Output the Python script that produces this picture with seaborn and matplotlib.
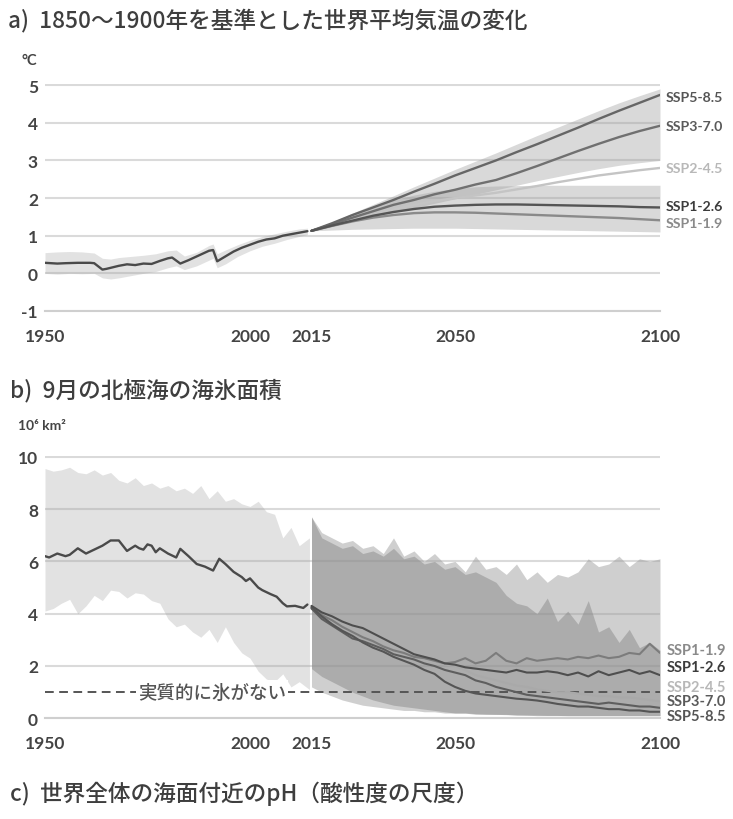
import numpy as np
import pandas as pd
import matplotlib
matplotlib.use("Agg")
import matplotlib.pyplot as plt
import seaborn as sns

# ---------------------------------------------------------------------------
# a) Global surface temperature change relative to 1850-1900 (°C)
# ---------------------------------------------------------------------------
hist_years_a = [1950, 1953, 1955, 1958, 1961, 1962, 1964, 1965, 1968, 1970, 1972,
                1974, 1976, 1978, 1980, 1981, 1983, 1985, 1988, 1990, 1991, 1992,
                1994, 1996, 1998, 2000, 2002, 2004, 2006, 2008, 2010, 2012, 2014]
hist_temp = [0.28, 0.26, 0.27, 0.28, 0.28, 0.27, 0.10, 0.12, 0.20, 0.24, 0.22,
             0.26, 0.25, 0.33, 0.40, 0.42, 0.26, 0.35, 0.50, 0.60, 0.62, 0.32,
             0.45, 0.58, 0.68, 0.76, 0.84, 0.90, 0.93, 1.00, 1.04, 1.08, 1.12]

hist_band_years_a = [1950, 1953, 1956, 1959, 1962, 1964, 1966, 1968, 1971, 1974, 1977,
                     1980, 1982, 1984, 1987, 1990, 1991, 1992, 1994, 1997, 2000, 2003,
                     2006, 2009, 2012, 2014]
hist_temp_lo = [0.00, -0.02, 0.00, -0.01, 0.00, -0.12, -0.15, -0.12, -0.06, 0.00, 0.05,
                0.15, 0.20, 0.10, 0.20, 0.35, 0.40, 0.15, 0.25, 0.45, 0.60, 0.72,
                0.80, 0.90, 0.98, 1.03]
hist_temp_hi = [0.55, 0.57, 0.58, 0.57, 0.54, 0.40, 0.38, 0.42, 0.45, 0.48, 0.52,
                0.60, 0.62, 0.46, 0.56, 0.74, 0.78, 0.52, 0.62, 0.76, 0.88, 0.98,
                1.05, 1.12, 1.18, 1.20]

proj_years_a = [2015, 2020, 2025, 2030, 2035, 2040, 2045, 2050, 2055, 2060, 2065,
                2070, 2075, 2080, 2085, 2090, 2095, 2100]
temp_ssp119 = [1.13, 1.26, 1.38, 1.48, 1.55, 1.60, 1.62, 1.62, 1.61, 1.59, 1.57,
               1.55, 1.53, 1.51, 1.49, 1.47, 1.44, 1.41]
temp_ssp126 = [1.13, 1.27, 1.40, 1.53, 1.63, 1.71, 1.77, 1.80, 1.82, 1.83, 1.83,
               1.82, 1.81, 1.80, 1.79, 1.78, 1.76, 1.75]
temp_ssp245 = [1.13, 1.28, 1.42, 1.56, 1.70, 1.82, 1.92, 2.00, 2.07, 2.14, 2.23,
               2.32, 2.42, 2.51, 2.60, 2.67, 2.74, 2.80]
temp_ssp370 = [1.13, 1.30, 1.48, 1.65, 1.82, 1.95, 2.10, 2.22, 2.36, 2.48, 2.66,
               2.85, 3.05, 3.25, 3.44, 3.62, 3.78, 3.92]
temp_ssp585 = [1.13, 1.33, 1.55, 1.75, 1.95, 2.17, 2.38, 2.60, 2.80, 3.00, 3.22,
               3.43, 3.65, 3.87, 4.10, 4.32, 4.53, 4.74]

# very likely ranges (SSP1-2.6 and SSP3-7.0)
temp_band126_lo = [1.13, 1.15, 1.17, 1.18, 1.19, 1.20, 1.20, 1.20, 1.19, 1.18, 1.17,
                   1.16, 1.15, 1.14, 1.13, 1.12, 1.11, 1.10]
temp_band126_hi = [1.13, 1.35, 1.58, 1.78, 1.95, 2.08, 2.18, 2.25, 2.30, 2.32, 2.33,
                   2.34, 2.34, 2.34, 2.34, 2.34, 2.34, 2.34]
temp_band370_lo = [1.13, 1.25, 1.38, 1.50, 1.62, 1.74, 1.86, 1.98, 2.10, 2.22, 2.34,
                   2.46, 2.57, 2.68, 2.78, 2.87, 2.94, 3.00]
temp_band370_hi = [1.13, 1.36, 1.60, 1.83, 2.06, 2.30, 2.53, 2.76, 2.98, 3.20, 3.43,
                   3.66, 3.88, 4.10, 4.32, 4.53, 4.72, 4.90]

# ---------------------------------------------------------------------------
# b) September Arctic sea ice area (10^6 km²)
# ---------------------------------------------------------------------------
hist_years_b = [1950, 1951, 1953, 1955, 1956, 1958, 1960, 1962, 1964, 1966, 1968,
                1970, 1972, 1973, 1974, 1975, 1976, 1977, 1978, 1980, 1982, 1983,
                1985, 1987, 1989, 1991, 1992.5, 1994, 1996, 1998, 1999, 2000, 2002,
                2003, 2005, 2006.5, 2008, 2009, 2011, 2013, 2014]
hist_ice = [6.20, 6.15, 6.30, 6.20, 6.25, 6.50, 6.30, 6.45, 6.60, 6.80, 6.80,
            6.40, 6.60, 6.50, 6.45, 6.65, 6.60, 6.35, 6.50, 6.30, 6.15, 6.48,
            6.20, 5.90, 5.80, 5.65, 6.10, 5.90, 5.60, 5.40, 5.25, 5.35, 5.00,
            4.90, 4.75, 4.65, 4.40, 4.28, 4.30, 4.22, 4.35]

hist_band_years_b = [1950, 1952, 1954, 1956, 1958, 1960, 1962, 1964, 1966, 1968, 1970,
                     1972, 1974, 1976, 1978, 1980, 1982, 1984, 1986, 1988, 1990, 1992,
                     1994, 1996, 1998, 2000, 2002, 2004, 2006, 2008, 2010, 2012, 2014.5]
hist_ice_lo = [4.10, 4.20, 4.40, 4.55, 4.00, 4.30, 4.70, 4.50, 4.90, 4.85, 4.60,
               4.80, 4.75, 4.50, 4.40, 3.80, 3.50, 3.60, 3.30, 3.10, 3.40, 2.90,
               3.50, 2.90, 2.50, 2.30, 1.80, 1.50, 1.40, 1.70, 1.20, 1.40, 1.10]
hist_ice_hi = [9.55, 9.45, 9.50, 9.60, 9.40, 9.35, 9.50, 9.30, 9.40, 9.10, 9.00,
               9.20, 8.90, 9.00, 8.80, 8.90, 8.70, 8.80, 8.60, 8.90, 8.40, 8.70,
               8.30, 8.40, 8.20, 8.10, 8.30, 7.90, 7.80, 6.90, 7.30, 6.60, 6.90]

proj_years_b = [2015, 2017.5, 2020, 2022.5, 2025, 2027.5, 2030, 2032.5, 2035, 2037.5,
                2040, 2042.5, 2045, 2047.5, 2050, 2052.5, 2055, 2057.5, 2060, 2062.5,
                2065, 2067.5, 2070, 2072.5, 2075, 2077.5, 2080, 2082.5, 2085, 2087.5,
                2090, 2092.5, 2095, 2097.5, 2100]
ice_ssp119 = [4.25, 3.95, 3.75, 3.50, 3.30, 3.10, 2.95, 2.75, 2.60, 2.50,
              2.35, 2.30, 2.20, 2.10, 2.15, 2.30, 2.10, 2.20, 2.50, 2.20,
              2.10, 2.30, 2.20, 2.25, 2.30, 2.25, 2.35, 2.30, 2.40, 2.30,
              2.35, 2.50, 2.45, 2.85, 2.50]
ice_ssp126 = [4.30, 4.05, 3.90, 3.70, 3.55, 3.45, 3.25, 3.05, 2.85, 2.65,
              2.45, 2.35, 2.25, 2.10, 2.05, 1.95, 1.90, 1.85, 1.80, 1.75,
              1.85, 1.75, 1.75, 1.80, 1.75, 1.65, 1.75, 1.60, 1.80, 1.65,
              1.75, 1.85, 1.70, 1.80, 1.65]
ice_ssp245 = [4.20, 3.85, 3.60, 3.35, 3.20, 3.00, 2.90, 2.75, 2.60, 2.50,
              2.35, 2.30, 2.20, 2.05, 2.00, 1.85, 1.65, 1.55, 1.45, 1.35,
              1.25, 1.20, 1.10, 1.05, 1.00, 1.00, 0.95, 0.90, 0.85, 0.85,
              0.80, 0.80, 0.75, 0.70, 0.65]
ice_ssp370 = [4.20, 3.80, 3.55, 3.30, 3.05, 2.95, 2.80, 2.65, 2.45, 2.35,
              2.25, 2.10, 2.00, 1.85, 1.75, 1.65, 1.45, 1.35, 1.20, 1.10,
              1.00, 0.90, 0.85, 0.80, 0.75, 0.70, 0.65, 0.60, 0.55, 0.60,
              0.55, 0.50, 0.45, 0.45, 0.40]
ice_ssp585 = [4.25, 3.90, 3.60, 3.35, 3.15, 2.90, 2.70, 2.55, 2.35, 2.20,
              2.05, 1.85, 1.70, 1.40, 1.20, 1.05, 0.95, 0.90, 0.85, 0.80,
              0.75, 0.72, 0.68, 0.62, 0.55, 0.50, 0.45, 0.45, 0.40, 0.35,
              0.35, 0.30, 0.30, 0.25, 0.25]

ice_band126_lo = [1.20, 1.00, 0.85, 0.70, 0.60, 0.50, 0.45, 0.40, 0.35, 0.30,
                  0.30, 0.25, 0.25, 0.20, 0.20, 0.20, 0.15, 0.15, 0.15, 0.15,
                  0.12, 0.12, 0.10, 0.10, 0.10, 0.10, 0.10, 0.10, 0.10, 0.10,
                  0.10, 0.10, 0.10, 0.10, 0.10]
ice_band126_hi = [7.70, 7.10, 6.90, 6.70, 6.80, 6.50, 6.60, 6.30, 6.90, 6.20,
                  6.40, 6.00, 6.30, 5.90, 6.00, 5.60, 6.20, 5.70, 5.80, 5.50,
                  5.90, 5.30, 5.60, 5.20, 5.50, 5.40, 5.60, 6.10, 5.80, 5.90,
                  6.20, 5.80, 6.10, 6.00, 6.10]
ice_band370_lo = [1.90, 1.60, 1.40, 1.20, 1.00, 0.85, 0.70, 0.60, 0.50, 0.45,
                  0.40, 0.35, 0.30, 0.25, 0.20, 0.20, 0.18, 0.16, 0.15, 0.14,
                  0.13, 0.12, 0.12, 0.11, 0.11, 0.10, 0.10, 0.10, 0.10, 0.10,
                  0.10, 0.10, 0.10, 0.10, 0.10]
ice_band370_hi = [7.70, 6.90, 6.70, 6.50, 6.60, 6.30, 6.40, 6.20, 6.50, 6.10,
                  6.20, 5.90, 6.00, 5.70, 5.80, 5.50, 5.60, 5.40, 5.20, 4.70,
                  4.40, 4.30, 4.00, 4.60, 3.70, 4.10, 3.60, 4.50, 3.30, 3.50,
                  2.90, 3.40, 2.70, 2.90, 2.60]

ice_free_level = 1.0
scenarios = ["SSP1-1.9", "SSP1-2.6", "SSP2-4.5", "SSP3-7.0", "SSP5-8.5"]

# ---------------------------------------------------------------------------
# styling
# ---------------------------------------------------------------------------
sns.set_theme(style="white")
plt.rcParams["font.family"] = ["Lato", "Noto Sans CJK JP", "DejaVu Sans"]

CJK = ["Noto Sans CJK JP", "DejaVu Sans"]
TXT = "#444444"
GRID = "#dadada"
hist_color = "#4a4a4a"
pal_a = {"SSP1-1.9": "#8a8a8a", "SSP1-2.6": "#555555", "SSP2-4.5": "#c4c4c4",
         "SSP3-7.0": "#707070", "SSP5-8.5": "#666666"}
pal_b = {"SSP1-1.9": "#7c7c7c", "SSP1-2.6": "#4e4e4e", "SSP2-4.5": "#a9a9a9",
         "SSP3-7.0": "#5e5e5e", "SSP5-8.5": "#555555"}
label_colors = {"SSP1-1.9": "#8a8a8a", "SSP1-2.6": "#3c3c3c", "SSP2-4.5": "#b8b8b8",
                "SSP3-7.0": "#5a5a5a", "SSP5-8.5": "#555555"}

W, H = 733, 820
fig = plt.figure(figsize=(W / 100, H / 100), dpi=100)
fig.patch.set_facecolor("white")


def px_axes(left, top, right, bottom):
    return fig.add_axes([left / W, 1 - bottom / H, (right - left) / W, (bottom - top) / H])


def style_axes(ax, yticks, ylim):
    ax.set_xlim(1950, 2100)
    ax.set_ylim(*ylim)
    ax.set_yticks(yticks)
    ax.set_yticklabels([f"{t:g}" for t in yticks])
    ax.set_xticks([1950, 2000, 2015, 2050, 2100])
    ax.set_xticks(list(range(1960, 2100, 10)), minor=True)
    ax.set_xlabel("")
    ax.set_ylabel("")
    for s in ("top", "right", "left"):
        ax.spines[s].set_visible(False)
    ax.spines["bottom"].set_color("#cfcfcf")
    ax.spines["bottom"].set_linewidth(1.5)
    ax.yaxis.grid(True, color=GRID, lw=1.5)
    ax.xaxis.grid(False)
    ax.set_axisbelow(True)
    ax.tick_params(axis="y", length=0, pad=5, labelsize=12.5, labelcolor=TXT)
    ax.tick_params(axis="x", which="both", direction="in", length=5, width=1.2,
                   color="#c6c6c6", pad=12, labelsize=12.5, labelcolor=TXT)
    for lab in ax.get_xticklabels() + ax.get_yticklabels():
        lab.set_fontweight("bold")
        lab.set_family("Lato")
    ax.set_facecolor("none")


def long_frame(years, series):
    rows = []
    for name, vals in series.items():
        rows.append(pd.DataFrame({"year": years, "value": vals, "scenario": name}))
    return pd.concat(rows, ignore_index=True)


# ----------------------------- panel a -------------------------------------
ax_a = px_axes(45, 85, 660, 312)

ax_a.fill_between(hist_band_years_a, hist_temp_lo, hist_temp_hi,
                  color="#a0a0a0", alpha=0.3, lw=0)
ax_a.fill_between(proj_years_a, temp_band126_lo, temp_band126_hi,
                  color="#a0a0a0", alpha=0.4, lw=0)
ax_a.fill_between(proj_years_a, temp_band370_lo, temp_band370_hi,
                  color="#a0a0a0", alpha=0.4, lw=0)

sns.lineplot(x=hist_years_a, y=hist_temp, color=hist_color, lw=1.7, ax=ax_a)
proj_a = long_frame(proj_years_a, {
    "SSP1-1.9": temp_ssp119, "SSP1-2.6": temp_ssp126, "SSP2-4.5": temp_ssp245,
    "SSP3-7.0": temp_ssp370, "SSP5-8.5": temp_ssp585})
sns.lineplot(data=proj_a, x="year", y="value", hue="scenario", palette=pal_a,
             hue_order=["SSP2-4.5", "SSP1-1.9", "SSP3-7.0", "SSP5-8.5", "SSP1-2.6"],
             lw=1.7, legend=False, ax=ax_a)
style_axes(ax_a, [-1, 0, 1, 2, 3, 4, 5], (-1, 5.03))

# right-hand scenario labels, nudged apart where the curves end close together
end_a = {"SSP1-1.9": temp_ssp119[-1] - 0.08, "SSP1-2.6": temp_ssp126[-1] + 0.04,
         "SSP2-4.5": temp_ssp245[-1], "SSP3-7.0": temp_ssp370[-1],
         "SSP5-8.5": temp_ssp585[-1] - 0.05}
for name in scenarios:
    ax_a.text(2101.3, end_a[name], name, color=label_colors[name], fontsize=10.2,
              fontweight="bold", family="Lato", va="center", ha="left", clip_on=False)

fig.text(8 / W, 1 - 20 / H, "a)  1850～1900年を基準とした世界平均気温の変化",
         family=CJK, fontsize=16.3, fontweight="medium", color="#3e3e3e",
         va="center", ha="left")
fig.text(22 / W, 1 - 61 / H, "°C", family=["Lato", "DejaVu Sans"], fontsize=10.5,
         fontweight="bold", color=TXT, va="center", ha="left")

# ----------------------------- panel b -------------------------------------
ax_b = px_axes(45, 457, 660, 719.3)

ax_b.fill_between(hist_band_years_b, hist_ice_lo, hist_ice_hi,
                  color="#a0a0a0", alpha=0.3, lw=0)
ax_b.fill_between(proj_years_b, ice_band126_lo, ice_band126_hi,
                  color="#9c9c9c", alpha=0.48, lw=0)
ax_b.fill_between(proj_years_b, ice_band370_lo, ice_band370_hi,
                  color="#8a8a8a", alpha=0.5, lw=0)

ax_b.axhline(ice_free_level, color="#555555", lw=1.4, ls=(0, (4.5, 2.8)), zorder=3)
ax_b.text(1990.7, ice_free_level, "実質的に氷がない", family=CJK, fontsize=13.3,
          fontweight="medium", color="#555555", ha="center", va="center", zorder=4,
          bbox=dict(boxstyle="square,pad=0.12", fc="white", ec="none"))

sns.lineplot(x=hist_years_b, y=hist_ice, color=hist_color, lw=1.7, ax=ax_b, zorder=5)
proj_b = long_frame(proj_years_b, {
    "SSP1-1.9": ice_ssp119, "SSP1-2.6": ice_ssp126, "SSP2-4.5": ice_ssp245,
    "SSP3-7.0": ice_ssp370, "SSP5-8.5": ice_ssp585})
sns.lineplot(data=proj_b, x="year", y="value", hue="scenario", palette=pal_b,
             hue_order=["SSP2-4.5", "SSP1-1.9", "SSP3-7.0", "SSP5-8.5", "SSP1-2.6"],
             lw=1.5, legend=False, ax=ax_b, zorder=5)
style_axes(ax_b, [0, 2, 4, 6, 8, 10], (0, 10.03))

label_y_b = {"SSP1-1.9": 2.6, "SSP1-2.6": 1.95, "SSP2-4.5": 1.2,
             "SSP3-7.0": 0.65, "SSP5-8.5": 0.1}
for name in scenarios:
    ax_b.text(2101.6, label_y_b[name], name, color=label_colors[name], fontsize=10.5,
              fontweight="bold", family="Lato", va="center", ha="left", clip_on=False)

fig.text(10 / W, 1 - 391 / H, "b)  9月の北極海の海氷面積",
         family=CJK, fontsize=16.3, fontweight="medium", color="#3e3e3e",
         va="center", ha="left")
fig.text(18 / W, 1 - 426 / H, "10⁶ km²", family=["Lato", "DejaVu Sans"], fontsize=10,
         fontweight="bold", color=TXT, va="center", ha="left")

# ----------------------------- panel c heading -----------------------------
fig.text(10 / W, 1 - 794 / H, "c)  世界全体の海面付近のpH（酸性度の尺度）",
         family=CJK, fontsize=16.3, fontweight="medium", color="#3e3e3e",
         va="center", ha="left")

fig.savefig("out.png", dpi=100, facecolor="white")
